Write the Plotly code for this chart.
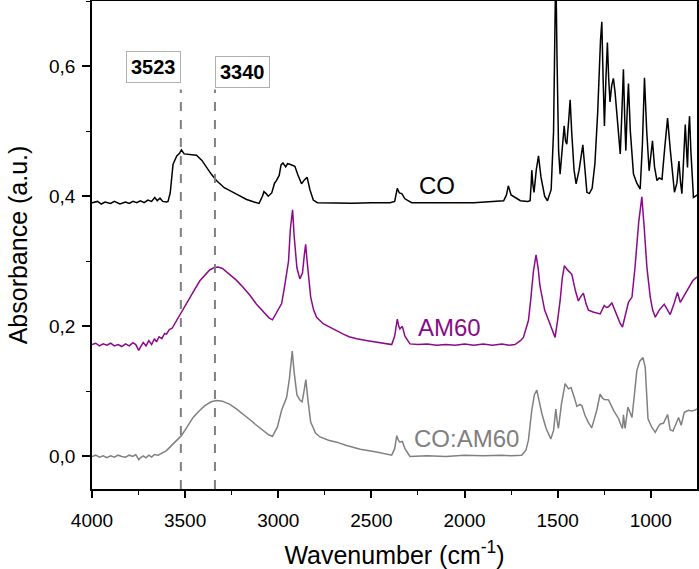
import plotly.graph_objects as go

# ---------------- data ----------------
co_wn = [4000, 3970, 3950, 3930, 3900, 3880, 3850, 3820, 3800, 3780, 3760, 3740, 3720, 3700, 3680, 3663, 3650, 3635, 3620, 3600,
         3592, 3580, 3565, 3545, 3530, 3520, 3505, 3480, 3460, 3439, 3410, 3385, 3360, 3332, 3290, 3242, 3200, 3170, 3130, 3103,
         3085, 3077, 3065, 3054, 3035, 3020, 3010, 2995, 2985, 2975, 2960, 2950, 2938, 2925, 2911, 2895, 2875, 2860, 2845, 2830,
         2812, 2790, 2700, 2600, 2500, 2400, 2375, 2361, 2350, 2337, 2320, 2284, 2200, 2100, 2060, 2025, 1950, 1850, 1790, 1775,
         1765, 1750, 1720, 1700, 1660, 1648, 1642, 1639, 1633, 1627, 1615, 1603, 1590, 1570, 1555, 1535, 1522, 1515, 1510, 1504,
         1495, 1487, 1475, 1465, 1458, 1451, 1440, 1433, 1425, 1412, 1401, 1385, 1365, 1355, 1343, 1330, 1315, 1300, 1285, 1270,
         1263, 1256, 1249, 1241, 1233, 1226, 1219, 1210, 1201, 1192, 1183, 1172, 1164, 1155, 1147, 1140, 1134, 1127, 1120, 1110,
         1093, 1075, 1057, 1045, 1034, 1022, 1009, 1000, 991, 980, 967, 955, 940, 925, 910, 895, 873, 860, 849, 840,
         833, 825, 815, 808, 803, 797, 792, 785, 771, 760, 752]
co_abs = [0.390, 0.392, 0.388, 0.391, 0.389, 0.392, 0.388, 0.391, 0.389, 0.392, 0.390, 0.393, 0.390, 0.394, 0.392, 0.398, 0.393, 0.397, 0.392, 0.391,
          0.392, 0.405, 0.449, 0.462, 0.466, 0.471, 0.465, 0.464, 0.463, 0.463, 0.455, 0.444, 0.434, 0.424, 0.413, 0.406, 0.399, 0.395, 0.391, 0.389,
          0.400, 0.407, 0.404, 0.400, 0.405, 0.420, 0.424, 0.432, 0.448, 0.451, 0.445, 0.450, 0.449, 0.447, 0.446, 0.433, 0.419, 0.425, 0.429, 0.410,
          0.394, 0.390, 0.389, 0.389, 0.390, 0.390, 0.392, 0.412, 0.405, 0.404, 0.396, 0.390, 0.390, 0.390, 0.391, 0.390, 0.390, 0.392, 0.393, 0.402,
          0.416, 0.402, 0.396, 0.393, 0.392, 0.393, 0.420, 0.440, 0.418, 0.406, 0.440, 0.462, 0.430, 0.400, 0.393, 0.410, 0.500, 0.700, 0.760, 0.620,
          0.470, 0.434, 0.470, 0.508, 0.485, 0.480, 0.520, 0.548, 0.500, 0.440, 0.419, 0.440, 0.479, 0.440, 0.406, 0.404, 0.412, 0.450, 0.530, 0.640,
          0.668, 0.580, 0.508, 0.580, 0.636, 0.580, 0.545, 0.570, 0.581, 0.560, 0.526, 0.490, 0.465, 0.530, 0.595, 0.520, 0.470, 0.530, 0.573, 0.500,
          0.434, 0.420, 0.411, 0.480, 0.582, 0.500, 0.439, 0.462, 0.485, 0.445, 0.424, 0.428, 0.426, 0.475, 0.520, 0.470, 0.406, 0.420, 0.454, 0.420,
          0.404, 0.450, 0.510, 0.470, 0.444, 0.500, 0.523, 0.470, 0.398, 0.400, 0.402]

am_wn = [4000, 3980, 3960, 3940, 3920, 3900, 3880, 3860, 3840, 3820, 3800, 3780, 3765, 3755, 3749, 3740, 3725, 3710, 3695, 3680,
         3665, 3654, 3640, 3625, 3610, 3600, 3585, 3570, 3556, 3540, 3520, 3500, 3475, 3450, 3421, 3395, 3367, 3345, 3323, 3300,
         3260, 3225, 3189, 3150, 3117, 3080, 3050, 3031, 3010, 2995, 2982, 2968, 2959, 2945, 2935, 2923, 2915, 2900, 2884, 2870,
         2860, 2853, 2845, 2835, 2826, 2810, 2794, 2759, 2720, 2687, 2651, 2620, 2579, 2520, 2472, 2430, 2391, 2375, 2361, 2353,
         2347, 2334, 2320, 2293, 2250, 2200, 2150, 2100, 2050, 2000, 1950, 1900, 1850, 1800, 1760, 1729, 1700, 1684, 1670, 1657,
         1645, 1630, 1616, 1605, 1595, 1585, 1570, 1555, 1535, 1524, 1514, 1500, 1487, 1475, 1464, 1445, 1424, 1405, 1389, 1375,
         1362, 1348, 1335, 1310, 1290, 1272, 1260, 1250, 1238, 1227, 1209, 1195, 1182, 1165, 1152, 1135, 1120, 1101, 1085, 1065,
         1048, 1035, 1021, 1003, 990, 976, 955, 928, 910, 896, 875, 857, 842, 820, 798, 775, 752]
am_abs = [0.172, 0.174, 0.170, 0.173, 0.171, 0.174, 0.170, 0.172, 0.169, 0.173, 0.170, 0.175, 0.172, 0.166, 0.163, 0.168, 0.175, 0.170, 0.178, 0.172,
          0.181, 0.176, 0.184, 0.181, 0.189, 0.188, 0.195, 0.197, 0.204, 0.211, 0.222, 0.233, 0.245, 0.256, 0.270, 0.279, 0.287, 0.290, 0.291, 0.289,
          0.280, 0.271, 0.260, 0.247, 0.234, 0.222, 0.213, 0.210, 0.220, 0.228, 0.235, 0.258, 0.275, 0.300, 0.350, 0.379, 0.340, 0.290, 0.273, 0.282,
          0.310, 0.326, 0.300, 0.265, 0.245, 0.225, 0.214, 0.204, 0.198, 0.193, 0.188, 0.184, 0.181, 0.178, 0.176, 0.174, 0.172, 0.185, 0.211, 0.200,
          0.196, 0.200, 0.185, 0.173, 0.172, 0.173, 0.171, 0.172, 0.171, 0.173, 0.171, 0.173, 0.171, 0.173, 0.171, 0.172, 0.178, 0.183, 0.195, 0.209,
          0.240, 0.285, 0.310, 0.290, 0.262, 0.245, 0.225, 0.214, 0.200, 0.190, 0.183, 0.210, 0.239, 0.275, 0.293, 0.286, 0.280, 0.255, 0.239, 0.246,
          0.251, 0.235, 0.225, 0.222, 0.220, 0.219, 0.226, 0.232, 0.229, 0.230, 0.236, 0.226, 0.216, 0.205, 0.199, 0.220, 0.237, 0.245, 0.290, 0.360,
          0.399, 0.350, 0.291, 0.245, 0.225, 0.214, 0.225, 0.234, 0.226, 0.218, 0.235, 0.252, 0.237, 0.248, 0.260, 0.270, 0.276]

mix_wn = [4000, 3980, 3960, 3940, 3920, 3900, 3880, 3860, 3840, 3820, 3800, 3780, 3765, 3755, 3749, 3740, 3725, 3710, 3695, 3680,
          3665, 3645, 3620, 3600, 3583, 3560, 3540, 3520, 3490, 3457, 3425, 3394, 3360, 3332, 3300, 3260, 3225, 3189, 3150, 3117,
          3080, 3050, 3031, 3005, 2982, 2965, 2955, 2940, 2925, 2915, 2900, 2885, 2872, 2862, 2852, 2840, 2826, 2800, 2776, 2730,
          2687, 2633, 2560, 2472, 2430, 2391, 2375, 2364, 2355, 2347, 2334, 2320, 2293, 2200, 2100, 2000, 1900, 1800, 1750, 1693,
          1670, 1657, 1639, 1625, 1612, 1600, 1585, 1562, 1537, 1522, 1510, 1503, 1496, 1480, 1460, 1442, 1428, 1410, 1397, 1380,
          1370, 1353, 1335, 1317, 1300, 1290, 1272, 1260, 1250, 1227, 1200, 1173, 1160, 1152, 1147, 1138, 1123, 1110, 1101, 1088,
          1075, 1060, 1042, 1030, 1015, 995, 976, 960, 949, 932, 910, 896, 881, 865, 851, 837, 820, 798, 780, 765, 752]
mix_abs = [0.000, 0.002, -0.001, 0.001, -0.002, 0.001, -0.001, 0.002, 0.000, -0.001, 0.002, 0.000, 0.003, -0.003, -0.005, -0.002, 0.001, -0.002, 0.002, -0.001,
           0.003, 0.002, 0.006, 0.009, 0.014, 0.020, 0.026, 0.032, 0.045, 0.060, 0.070, 0.078, 0.084, 0.086, 0.085, 0.080, 0.073, 0.0655, 0.056, 0.048,
           0.040, 0.033, 0.031, 0.045, 0.071, 0.085, 0.091, 0.120, 0.162, 0.130, 0.095, 0.087, 0.084, 0.100, 0.118, 0.085, 0.053, 0.036, 0.030, 0.025,
           0.022, 0.017, 0.011, 0.007, 0.004, 0.002, 0.012, 0.032, 0.025, 0.022, 0.023, 0.012, 0.000, 0.001, 0.000, 0.002, 0.001, 0.002, 0.001, 0.002,
           0.010, 0.025, 0.071, 0.095, 0.102, 0.085, 0.066, 0.043, 0.027, 0.040, 0.073, 0.055, 0.043, 0.080, 0.112, 0.104, 0.106, 0.090, 0.077, 0.080,
           0.078, 0.063, 0.052, 0.044, 0.060, 0.071, 0.096, 0.090, 0.0875, 0.087, 0.071, 0.058, 0.048, 0.043, 0.064, 0.043, 0.076, 0.066, 0.060, 0.095,
           0.132, 0.146, 0.152, 0.137, 0.058, 0.045, 0.037, 0.046, 0.050, 0.051, 0.0645, 0.041, 0.039, 0.050, 0.060, 0.048, 0.068, 0.071, 0.070, 0.071, 0.073]

series_names = ["CO", "AM60", "CO:AM60"]
series_colors = ["#000000", "#8b0a8b", "#808080"]
# label anchor positions (wavenumber, absorbance) for the in-plot series labels
label_wn = [2148, 2083, 1992]
label_abs = [0.417, 0.198, 0.027]

marker_wn = [3523, 3340]
marker_text = ["3523", "3340"]
marker_label_abs = [0.574, 0.567]
marker_top = 0.564

x_ticks = [4000, 3500, 3000, 2500, 2000, 1500, 1000]
x_ticktext = ["4000", "3500", "3000", "2500", "2000", "1500", "1000"]
y_ticks = [0.0, 0.2, 0.4, 0.6]
y_ticktext = ["0,0", "0,2", "0,4", "0,6"]
x_range = [4000, 752]
y_range = [-0.05, 0.7]

FONT = "Liberation Sans, Arial, sans-serif"

# ---------------- figure ----------------
fig = go.Figure()
for wn, ab, name, col in zip([co_wn, am_wn, mix_wn], [co_abs, am_abs, mix_abs], series_names, series_colors):
    fig.add_trace(go.Scatter(x=wn, y=ab, mode="lines", name=name,
                             line=dict(color=col, width=1.5), showlegend=False))

# dashed marker lines
for w in marker_wn:
    fig.add_shape(type="line", xref="x", yref="y", x0=w, x1=w, y0=y_range[0], y1=marker_top,
                  line=dict(color="#808080", width=2, dash="dash"), layer="above")

# boxed labels for the markers
for w, t, ya, xa in zip(marker_wn, marker_text, marker_label_abs, ["right", "left"]):
    fig.add_annotation(x=w, y=ya, xref="x", yref="y", text="<b>%s</b>" % t,
                       showarrow=False, xanchor=xa, yanchor="bottom",
                       font=dict(family=FONT, size=20, color="black"),
                       bgcolor="white", bordercolor="#b0b0b0", borderwidth=1, borderpad=4)

# series labels
for name, col, lx, ly in zip(series_names, series_colors, label_wn, label_abs):
    fig.add_annotation(x=lx, y=ly, xref="x", yref="y", text=name, showarrow=False,
                       xanchor="center", yanchor="middle",
                       font=dict(family=FONT, size=24, color=col))

axis_common = dict(showline=True, linecolor="black", linewidth=1.6, mirror=True, automargin=False,
                   ticks="outside", tickwidth=1.6, tickcolor="black", showgrid=False, zeroline=False,
                   tickfont=dict(family=FONT, size=19, color="black"))

fig.update_xaxes(range=x_range, tickvals=x_ticks, ticktext=x_ticktext, ticklen=7,
                 minor=dict(ticks="outside", ticklen=4, tickwidth=1.4, dtick=250, tick0=0, tickcolor="black", showgrid=False),
                 title=dict(text="Wavenumber (cm<sup>-1</sup>)", font=dict(family=FONT, size=25, color="black"), standoff=18),
                 ticklabelstandoff=6,
                 **axis_common)
fig.update_yaxes(range=y_range, tickvals=y_ticks, ticktext=y_ticktext, ticklen=8,
                 minor=dict(ticks="outside", ticklen=4, tickwidth=1.4, dtick=0.1, tick0=0, tickcolor="black", showgrid=False),
                 title=dict(text="Absorbance (a.u.)", font=dict(family=FONT, size=25, color="black"), standoff=14),
                 ticklabelstandoff=3,
                 **axis_common)

fig.update_layout(width=699, height=569, margin=dict(l=92, r=2, t=1, b=80, autoexpand=False),
                  plot_bgcolor="white", paper_bgcolor="white",
                  font=dict(family=FONT, color="black"))

fig.write_html("out.html", config={"displayModeBar": False},
               post_script="document.body.style.margin='0';document.body.style.overflow='hidden';")
